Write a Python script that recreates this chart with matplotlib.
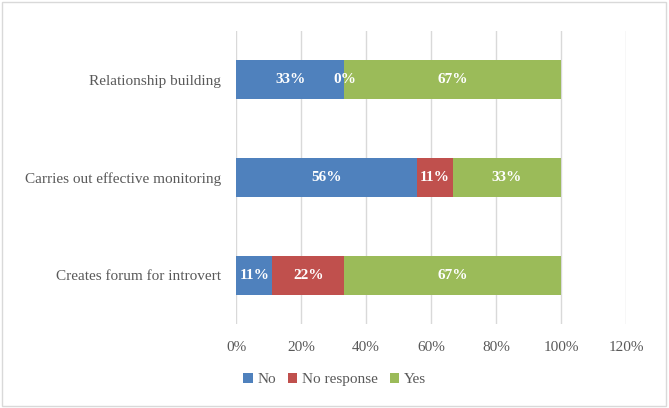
import matplotlib.pyplot as plt
from matplotlib.patches import Rectangle
from matplotlib.ticker import PercentFormatter

categories = ["Creates forum for introvert", "Carries out effective monitoring", "Relationship building"]
series = ["No", "No response", "Yes"]
no_vals = [11.11, 55.56, 33.33]
no_resp_vals = [22.22, 11.11, 0.0]
yes_vals = [66.67, 33.33, 66.67]
colors = ["#4F81BD", "#C0504D", "#9BBB59"]

plt.rcParams["font.family"] = ["Liberation Serif", "DejaVu Serif"]
text_grey = "#595959"

fig = plt.figure(figsize=(6.69, 4.08), dpi=100)
ax = fig.add_axes([0.353, 0.205, 0.583, 0.72])

left = [0.0] * len(categories)
for name, vals, col in zip(series, [no_vals, no_resp_vals, yes_vals], colors):
    bars = ax.barh(categories, vals, left=left, height=0.4, color=col, label=name, zorder=3)
    for b, v in zip(bars, vals):
        ax.text(b.get_x() + b.get_width() / 2, b.get_y() + b.get_height() / 2,
                f"{v:.0f}%", ha="center", va="center", color="white",
                fontweight="bold", fontsize=11, zorder=4)
    left = [l + v for l, v in zip(left, vals)]

ax.set_xlim(0, 120)
ax.set_xticks(range(0, 121, 20))
ax.xaxis.set_major_formatter(PercentFormatter(decimals=0))
ax.set_ylim(-0.5, 2.5)
ax.grid(axis="x", color="#D9D9D9", linewidth=1, zorder=0)
for s in ax.spines.values():
    s.set_visible(False)
ax.tick_params(length=0, labelsize=11, colors=text_grey, pad=11)
ax.tick_params(axis="x", pad=12)

fig.legend(loc="lower center", bbox_to_anchor=(0.5, 0.02), ncol=3, frameon=False,
           fontsize=11, handlelength=0.6, handleheight=0.6, handletextpad=0.3,
           columnspacing=0.8, labelcolor=text_grey)

fig.patches.append(Rectangle((0.003, 0.006), 0.993, 0.99, transform=fig.transFigure,
                             fill=False, edgecolor="#D9D9D9", linewidth=1))

fig.savefig("out.png", dpi=100)
